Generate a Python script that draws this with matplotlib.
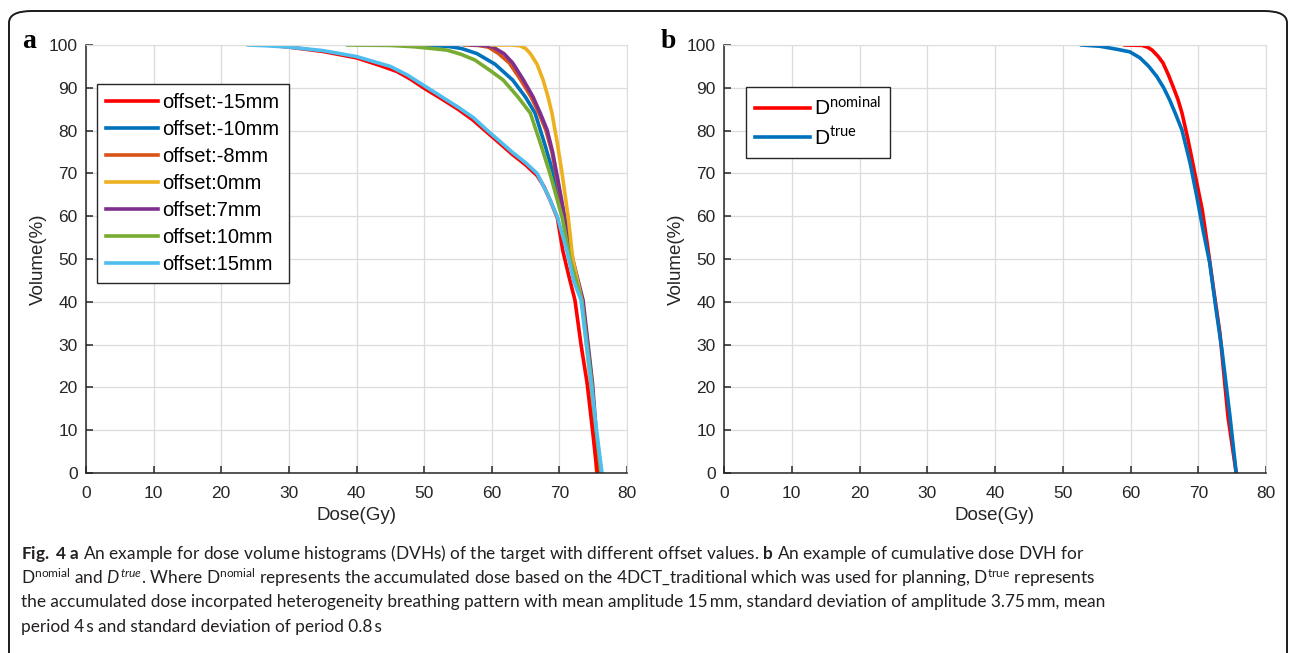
import matplotlib.pyplot as plt
from matplotlib.patches import FancyBboxPatch

plt.rcParams['font.family'] = ['Liberation Sans', 'DejaVu Sans']
plt.rcParams['mathtext.fontset'] = 'custom'
plt.rcParams['mathtext.rm'] = 'Lato'
plt.rcParams['mathtext.it'] = 'Lato:italic'
plt.rcParams['mathtext.bf'] = 'Lato:bold'

# panel a: dose (Gy) / volume (%)
dose_m15 = [27, 30, 35, 40, 43.5, 46, 48, 50.1, 52.5, 55, 57.2, 59.3, 61.2, 63, 65, 66.7,
            67.7, 68.7, 69.7, 70.5, 71.4, 72.3, 73.2, 74.1, 74.9, 75.6]
vol_m15 = [100, 99.5, 98.5, 97, 95.2, 93.8, 92, 89.8, 87.5, 85, 82.5, 79.6, 77, 74.5, 72, 69.5,
           67, 63.5, 59.6, 52, 46, 40.4, 30, 21, 10, 0]
dose_m10 = [48.5, 53.4, 55.5, 57.8, 60.5, 63.1, 65, 66.4, 67.8, 69.1, 70.5, 71.8, 73.4, 74.8, 75.8]
vol_m10 = [100, 99.7, 99.2, 98, 95.5, 91.8, 87.8, 84.1, 77, 70, 59.8, 49.8, 40.4, 21, 0]
dose_m8 = [56, 58, 59.5, 61, 62.6, 64.3, 65.8, 67, 68, 68.9, 69.5, 70.7, 71.9, 73.4, 74.8, 75.7]
vol_m8 = [100, 99.9, 99.5, 98, 95.8, 91.8, 87.9, 84, 80.1, 75, 70, 59.8, 49.8, 40.4, 21, 0]
dose_0 = [60, 63, 64.2, 65, 65.7, 66.7, 67.6, 68.3, 68.9, 69.7, 70.4, 71.3, 72, 73.3, 74.6, 75.5]
vol_0 = [100, 100, 99.8, 99.2, 98, 95.5, 91.8, 88, 84.1, 77, 70, 59.8, 49.8, 40.4, 21, 0]
dose_7 = [57, 59, 60.2, 61.8, 63.1, 64.7, 66.1, 67.2, 68.2, 69, 69.6, 70.8, 72, 73.5, 74.9, 75.9]
vol_7 = [100, 99.9, 99.5, 98, 95.8, 91.8, 87.9, 84, 80.1, 75, 70, 59.8, 49.8, 40.4, 21, 0]
dose_10 = [38.7, 45, 48.4, 51, 53.4, 55.5, 57.5, 59.8, 61.7, 63.8, 65.7, 67.2, 68.6, 70.4, 71.6,
           73.3, 74.8, 75.8]
vol_10 = [100, 99.9, 99.6, 99.2, 98.8, 97.8, 96.5, 94, 91.8, 88, 84.1, 77, 70, 59.8, 49.8,
          40.4, 21, 0]
dose_15 = [24, 27, 30, 35, 40, 45, 47.5, 50.1, 52.5, 55, 57.3, 59.3, 61.2, 63, 65, 66.7, 68.3,
           69.7, 71.1, 72.1, 73.2, 74, 74.7, 75.5, 76.3]
vol_15 = [100, 99.8, 99.5, 98.7, 97.3, 95, 93, 90.4, 88, 85.5, 83, 80.1, 77.5, 75, 72.5, 70, 65,
          59.8, 52, 45, 40.4, 30, 21, 10, 0]

labels_a = ['offset:-15mm', 'offset:-10mm', 'offset:-8mm', 'offset:0mm',
            'offset:7mm', 'offset:10mm', 'offset:15mm']
colors_a = ['#ff0000', '#0072bd', '#d95319', '#edb120', '#7e2f8e', '#77ac30', '#4dbeee']

# panel b
dose_nom = [59.2, 61.7, 62.5, 63.2, 64.1, 64.8, 65.6, 66.3, 67, 67.6, 68.5, 69.5, 70.6, 71.4,
            72.3, 73.2, 74.4, 75.6]
vol_nom = [100, 99.9, 99.5, 98.8, 97.3, 95.8, 93, 90.2, 87.3, 84.1, 77.8, 70, 61.4, 52.8,
           42.5, 32.7, 13, 0]
dose_true = [52.8, 55.5, 58, 59.9, 61.4, 62.7, 63.9, 64.9, 65.8, 66.7, 67.6, 68.8, 69.8, 70.7,
             71.7, 72.6, 73.5, 74.7, 75.6]
vol_true = [100, 99.7, 99, 98.4, 97, 95, 92.6, 90, 87.1, 83.7, 80.1, 72.4, 64.5, 56.8, 49,
            38.5, 28.7, 13, 0]

fig = plt.figure(figsize=(12.9, 6.53), dpi=100)
W, H = 1290, 653

frame = FancyBboxPatch((9 / W, -0.05), 1278 / W, 1 - 11 / H + 0.05,
                       boxstyle='round,pad=0,rounding_size=0.018',
                       transform=fig.transFigure, fill=False,
                       edgecolor='#1a1a1a', linewidth=1.4, clip_on=False)
fig.patches.append(frame)


def style(ax):
    ax.set_xlim(0, 80)
    ax.set_ylim(0, 100)
    ax.set_xticks(range(0, 81, 10))
    ax.set_yticks(range(0, 101, 10))
    ax.grid(True, color='#dcdcdc', linewidth=0.9)
    ax.set_axisbelow(True)
    for s in ['top', 'right']:
        ax.spines[s].set_color('#dcdcdc')
    for s in ['left', 'bottom']:
        ax.spines[s].set_color('#262626')
        ax.spines[s].set_linewidth(1.1)
    ax.tick_params(direction='in', length=5, width=1.1, color='#262626',
                   labelcolor='#262626', labelsize=12.5, pad=6, top=False, right=False)
    ax.tick_params(axis='x', pad=9)
    ax.set_xlabel('Dose(Gy)', fontsize=13.5, color='#262626', labelpad=5)
    ax.set_ylabel('Volume(%)', fontsize=13.5, color='#262626', labelpad=1.5)


ax1 = fig.add_axes([86 / W, 1 - 473 / H, 541 / W, 428 / H])
series_a = [(dose_m15, vol_m15), (dose_m10, vol_m10), (dose_m8, vol_m8), (dose_0, vol_0),
            (dose_7, vol_7), (dose_10, vol_10), (dose_15, vol_15)]
order = [1, 2, 4, 3, 5, 0, 6]
lines = {}
for i in order:
    d, v = series_a[i]
    lines[i], = ax1.plot(d, v, color=colors_a[i], linewidth=2.6, label=labels_a[i])
style(ax1)
leg1 = ax1.legend([lines[i] for i in range(7)], labels_a, loc='upper left',
                  bbox_to_anchor=(11 / 541, 1 - 39 / 428), fontsize=14.5, handlelength=2.6,
                  handletextpad=0.2, labelspacing=0.4, borderpad=0.45, fancybox=False,
                  edgecolor='#262626', framealpha=1, borderaxespad=0)
leg1.get_frame().set_linewidth(1.0)

ax2 = fig.add_axes([724 / W, 1 - 473 / H, 542 / W, 428 / H])
ax2.plot(dose_nom, vol_nom, color='#ff0000', linewidth=2.6, label=r'D$^{\mathrm{nominal}}$')
ax2.plot(dose_true, vol_true, color='#0072bd', linewidth=2.6, label=r'D$^{\mathrm{true}}$')
style(ax2)
leg2 = ax2.legend(loc='upper left', bbox_to_anchor=(22 / 542, 1 - 42 / 428), fontsize=15,
                  handlelength=2.6, handletextpad=0.2, labelspacing=0.35, borderpad=0.45,
                  fancybox=False, edgecolor='#262626', framealpha=1, borderaxespad=0)
leg2.get_frame().set_linewidth(1.0)

fig.text(22 / W, 1 - 42 / H, 'a', fontsize=20, fontweight='bold', family='Liberation Serif',
         va='center', ha='left')
fig.text(661 / W, 1 - 42 / H, 'b', fontsize=20, fontweight='bold', family='Liberation Serif',
         va='center', ha='left')

caption = [
    r'$\mathbf{Fig.}$ $\mathbf{4}$ $\mathbf{a}$ An example for dose volume histograms (DVHs) of the target with different offset values. $\mathbf{b}$ An example of cumulative dose DVH for',
    r'D$^{\mathrm{nomial}}$ and $D^{true}$. Where D$^{\mathrm{nomial}}$ represents the accumulated dose based on the 4DCT_traditional which was used for planning, D$^{\mathrm{true}}$ represents',
    'the accumulated dose incorpated heterogeneity breathing pattern with mean amplitude 15\u2009mm, standard deviation of amplitude 3.75\u2009mm, mean',
    'period 4\u2009s and standard deviation of period 0.8\u2009s',
]
for k, line in enumerate(caption):
    fig.text(21 / W, 1 - (553 + 24.7 * k) / H, line, fontsize=12.4, family=['Lato', 'DejaVu Sans'],
             color='#231f20', va='center', ha='left')

fig.savefig('out.png', dpi=100)
